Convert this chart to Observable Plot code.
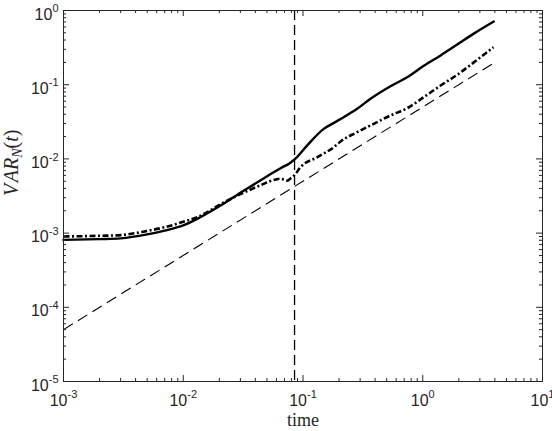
<!DOCTYPE html>
<html>
<head>
<meta charset="utf-8">
<script src="https://cdn.jsdelivr.net/npm/d3@7"></script>
<script src="https://cdn.jsdelivr.net/npm/@observablehq/plot@0.6"></script>
<style>
  html, body { margin: 0; padding: 0; background: #fff; }
  #chart { width: 552px; height: 431px; }
</style>
</head>
<body>
<div id="chart"></div>
<script>
// ---- data ----
const solidTime = [0.001, 0.002, 0.003, 0.005, 0.007, 0.01, 0.014, 0.0205, 0.03, 0.044, 0.055, 0.065, 0.077, 0.086, 0.108, 0.149, 0.181, 0.219, 0.283, 0.366, 0.538, 0.741, 1.02, 1.41, 1.94, 2.67, 3.92];
const solidVar  = [8.1e-4, 8.3e-4, 8.5e-4, 9.6e-4, 1.08e-3, 1.27e-3, 1.65e-3, 2.35e-3, 3.5e-3, 5.1e-3, 6.4e-3, 7.5e-3, 8.7e-3, 1.0e-2, 0.0151, 0.0254, 0.0306, 0.0365, 0.0473, 0.0646, 0.0955, 0.126, 0.18, 0.248, 0.347, 0.488, 0.71];

const dashDotTime = [0.001, 0.002, 0.003, 0.005, 0.007, 0.01, 0.014, 0.0205, 0.03, 0.044, 0.055, 0.065, 0.074, 0.079, 0.086, 0.095, 0.131, 0.181, 0.206, 0.283, 0.39, 0.538, 0.741, 1.02, 1.41, 1.94, 2.67, 3.9];
const dashDotVar  = [9.0e-4, 9.2e-4, 9.4e-4, 1.07e-3, 1.2e-3, 1.42e-3, 1.72e-3, 2.45e-3, 3.35e-3, 4.4e-3, 5.1e-3, 5.4e-3, 5.1e-3, 5.5e-3, 6.2e-3, 7.7e-3, 0.0105, 0.0144, 0.0172, 0.0229, 0.0297, 0.0385, 0.0482, 0.0679, 0.0975, 0.136, 0.20, 0.32];

const refTime = [0.001, 3.9];
const refVar  = [5e-5, 0.195];

const markerTime = [0.085];

const xTicks = [1e-3, 1e-2, 1e-1, 1, 10];
const yTicks = [1e-5, 1e-4, 1e-3, 1e-2, 1e-1, 1];
const xMinor = [];
for (let k = -3; k <= 0; k++) for (let m = 2; m <= 9; m++) xMinor.push(m * Math.pow(10, k));
const yMinor = [];
for (let k = -5; k <= -1; k++) for (let m = 2; m <= 9; m++) yMinor.push(m * Math.pow(10, k));

const xLabel = "time";
const yLabel = "VAR_N(t)";

// ---- layout ----
const W = 552, H = 431;
const mL = 63, mR = 10, mT = 10, mB = 50;
const plotW = W - mL - mR, plotH = H - mT - mB;
const axisColor = "#262626";
const tickFont = "'Liberation Sans', Arial, Helvetica, sans-serif";
const serifFont = "'Liberation Serif', 'Times New Roman', serif";

const solid = solidTime.map((t, i) => ({t, v: solidVar[i]}));
const dashDot = dashDotTime.map((t, i) => ({t, v: dashDotVar[i]}));
const ref = refTime.map((t, i) => ({t, v: refVar[i]}));

const fmt = d => "10^" + Math.round(Math.log10(d));

const chart = Plot.plot({
  width: W, height: H,
  marginLeft: mL, marginRight: mR, marginTop: mT, marginBottom: mB,
  style: {background: "#fff", overflow: "visible"},
  x: {type: "log", domain: [1e-3, 10]},
  y: {type: "log", domain: [1e-5, 1]},
  marks: [
    // lines
    Plot.line(ref, {x: "t", y: "v", stroke: "#000", strokeWidth: 1.1, strokeDasharray: "11,6", strokeLinecap: "butt"}),
    Plot.ruleX(markerTime, {x: d => d, stroke: "#000", strokeWidth: 1.3, strokeDasharray: "10,5", strokeLinecap: "butt"}),
    Plot.line(dashDot, {x: "t", y: "v", curve: "monotone-x", stroke: "#000", strokeWidth: 2.6,
      strokeDasharray: "6,2.5,2,2.5", strokeLinecap: "butt"}),
    Plot.line(solid, {x: "t", y: "v", curve: "monotone-x", stroke: "#000", strokeWidth: 2.4}),
    // inward ticks: bottom / top
    Plot.tickX(xTicks, {x: d => d, stroke: axisColor, insetTop: plotH - 6}),
    Plot.tickX(xMinor, {x: d => d, stroke: axisColor, insetTop: plotH - 3}),
    Plot.tickX(xTicks, {x: d => d, stroke: axisColor, insetBottom: plotH - 6}),
    Plot.tickX(xMinor, {x: d => d, stroke: axisColor, insetBottom: plotH - 3}),
    // inward ticks: left / right
    Plot.tickY(yTicks, {y: d => d, stroke: axisColor, insetRight: plotW - 6}),
    Plot.tickY(yMinor, {y: d => d, stroke: axisColor, insetRight: plotW - 3}),
    Plot.tickY(yTicks, {y: d => d, stroke: axisColor, insetLeft: plotW - 6}),
    Plot.tickY(yMinor, {y: d => d, stroke: axisColor, insetLeft: plotW - 3}),
    Plot.frame({stroke: axisColor, strokeWidth: 1}),
    // tick labels
    Plot.axisX(xTicks, {tickSize: 0, tickPadding: 13, tickFormat: fmt, label: null,
      fontSize: 16, fontFamily: tickFont, fill: axisColor}),
    Plot.axisY(yTicks, {tickSize: 0, tickPadding: 5, tickFormat: fmt, label: null, dy: 4,
      fontSize: 16, fontFamily: tickFont, fill: axisColor}),
    // axis titles
    Plot.text([xLabel], {text: d => d, frameAnchor: "bottom", dy: 44, fontSize: 18,
      fontFamily: serifFont, fill: axisColor}),
    Plot.text([yLabel], {text: d => d, frameAnchor: "left", dx: -52, rotate: -90, fontSize: 20,
      fontFamily: serifFont, fill: axisColor})
  ]
});

document.getElementById("chart").appendChild(chart);

// superscript exponents in tick labels, math-style y title
const svg = d3.select(chart);
svg.selectAll("text").each(function () {
  const el = d3.select(this);
  const s = this.textContent;
  const m = /^10\^(-?\d+)$/.exec(s);
  if (m) {
    el.text(null);
    el.append("tspan").text("10");
    el.append("tspan").attr("dy", "-7.5").attr("font-size", 11).text(m[1]);
  } else if (s === yLabel) {
    el.text(null);
    el.append("tspan").attr("font-style", "italic").text("V");
    el.append("tspan").attr("font-style", "italic").attr("dx", 3).text("AR");
    el.append("tspan").attr("font-style", "italic").attr("font-size", 14).attr("dy", 4).text("N");
    el.append("tspan").attr("dy", -4).text("(");
    el.append("tspan").attr("font-style", "italic").text("t");
    el.append("tspan").text(")");
  }
});
</script>
</body>
</html>
